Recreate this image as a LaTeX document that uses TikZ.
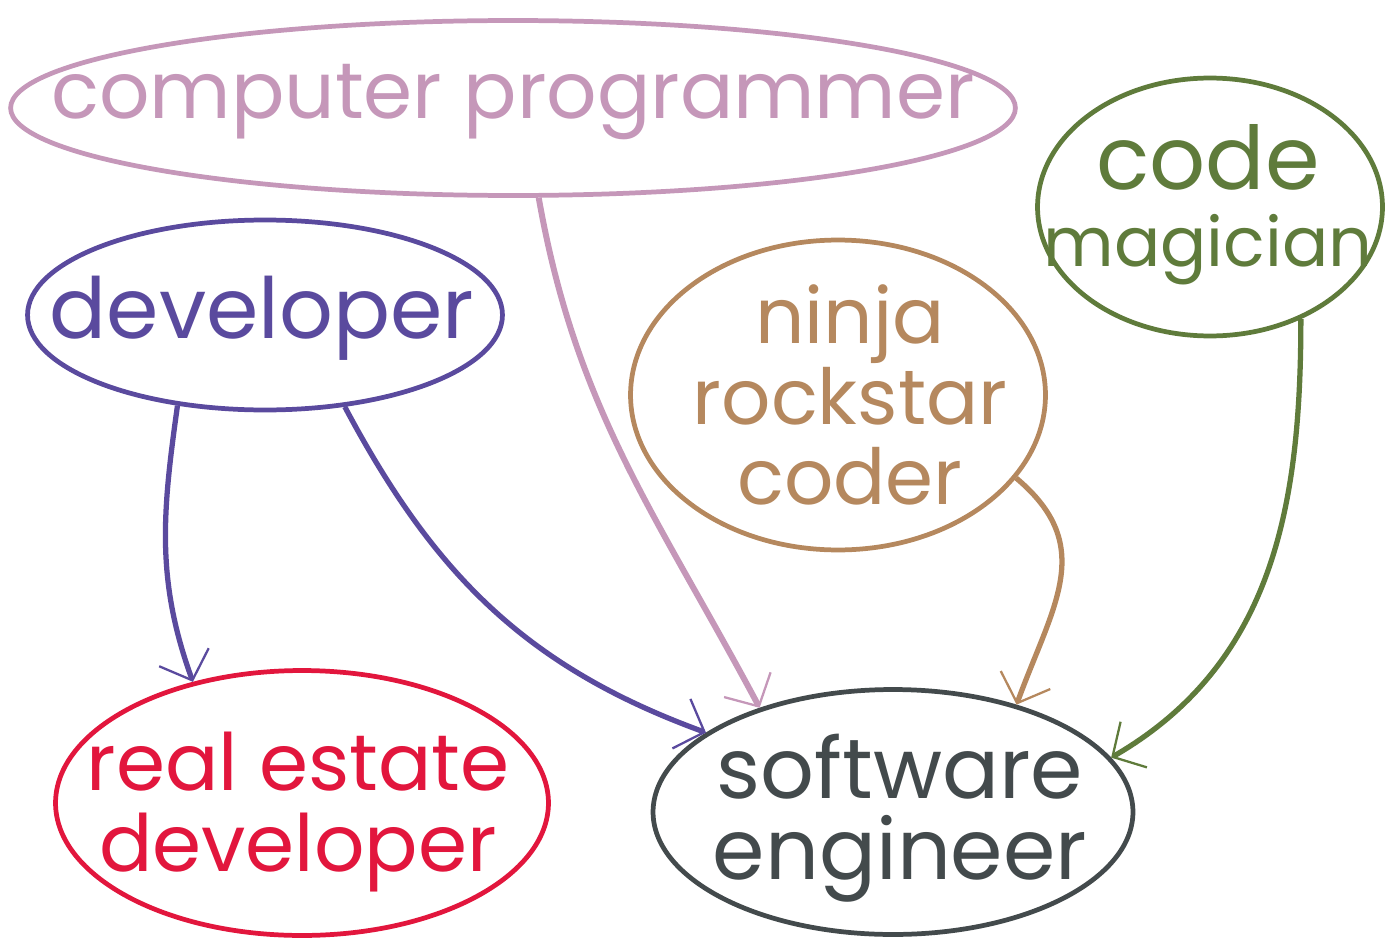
\documentclass[tikz,border=0pt]{standalone}
\usepackage{fontspec}
\setmainfont{Poppins}
\usetikzlibrary{shapes.geometric,arrows.meta}

\definecolor{progcol}{HTML}{C597B9}
\definecolor{devcol}{HTML}{5A4A9E}
\definecolor{ninjacol}{HTML}{B5885E}
\definecolor{magiccol}{HTML}{5F7B3B}
\definecolor{realcol}{HTML}{E2163D}
\definecolor{softcol}{HTML}{434A4C}

\tikzset{
  oval/.style={ellipse, draw, line width=2.7pt, inner sep=0pt},
  word/.style={align=center, inner sep=0pt},
  link/.style={line width=3pt, -{Straight Barb[length=14pt, width=30pt, line width=1.3pt]}}
}

\begin{document}
\begin{tikzpicture}[x=0.02cm, y=-0.02cm]
	\useasboundingbox (0,0) rectangle (1386,946);

	% the six names
	\node[oval, progcol, minimum width=20.1cm, minimum height=3.5cm] (prog) at (513,108) {};
	\node[word, progcol, font=\fontsize{45}{50}\selectfont] (progtxt) at (513,102) {computer programmer};

	\node[oval, devcol, minimum width=9.5cm, minimum height=3.8cm] (dev) at (265,315) {};
	\node[word, devcol, font=\fontsize{48}{52}\selectfont] (devtxt) at (262,318) {developer};

	\node[oval, ninjacol, minimum width=8.3cm, minimum height=6.2cm] (ninja) at (838,395) {};
	\node[word, ninjacol, font=\fontsize{44}{46}\selectfont] (ninjatxt) at (850,395) {ninja\\rockstar\\coder};

	\node[oval, magiccol, minimum width=6.9cm, minimum height=5.16cm] (magic) at (1210,207) {};
	\node[word, magiccol, font=\fontsize{39}{44}\selectfont] (magictxt) at (1208,205)
	  {{\fontsize{50}{50}\selectfont code}\\magician};

	\node[oval, realcol, minimum width=9.86cm, minimum height=5.3cm] (real) at (302,803) {};
	\node[word, realcol, font=\fontsize{45}{46}\selectfont] (realtxt) at (298,812) {real estate\\developer};

	\node[oval, softcol, minimum width=9.6cm, minimum height=4.9cm] (soft) at (893,812) {};
	\node[word, softcol, font=\fontsize{48}{46}\selectfont] (softtxt) at (900,818) {software\\engineer};

	% who turns into whom
	\draw[link, devcol] (dev.226) to[out=262, in=110] (real.132);
	\draw[link, devcol] (dev.311) to[out=-62, in=160] (soft.157);
	\draw[link, progcol, line width=3.4pt] (prog.286) to[out=-80, in=118] (soft.142);
	\draw[link, ninjacol] (ninja.335) to[out=-40, in=70, looseness=1.2] (soft.41);
	\draw[link, magiccol] (magic.309) to[out=-90, in=30] (soft.14);
\end{tikzpicture}
\end{document}
